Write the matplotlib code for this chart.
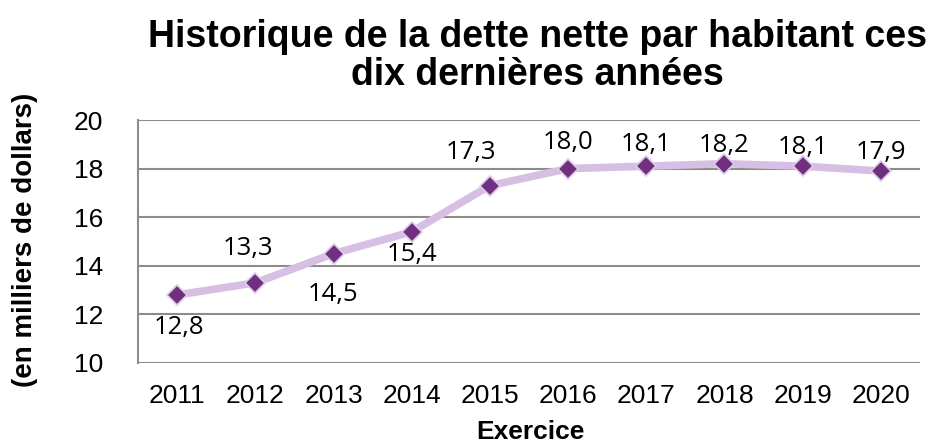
import matplotlib
matplotlib.use('Agg')
import matplotlib.pyplot as plt

plt.rcParams['font.family'] = ['Liberation Sans', 'DejaVu Sans']

# data
years = ['2011', '2012', '2013', '2014', '2015', '2016', '2017', '2018', '2019', '2020']
dette = [12.8, 13.3, 14.5, 15.4, 17.3, 18.0, 18.1, 18.2, 18.1, 17.9]
y_ticks = [10, 12, 14, 16, 18, 20]

# data label offsets in pixels (dx, dy) from each marker, as placed in the original
label_offsets = [(2, -33), (-7, 34), (0, -41), (0, -23), (-19, 33),
                 (0, 26), (0, 22), (0, 18), (0, 19), (0, 19)]

fig = plt.figure(figsize=(9.35, 4.46), dpi=100)
ax = fig.add_axes([138/935, 1-363/446, (920-138)/935, (363-120)/446])

x = list(range(len(years)))
ax.plot(x, dette, color='#d7bfe3', linewidth=5.5, solid_capstyle='round', zorder=2)
ax.plot(x, dette, linestyle='none', marker='D', markersize=10, color='#70307f',
        markeredgecolor='#e0cbe9', markeredgewidth=1.2, zorder=3)

px = 72 / fig.dpi
for xi, v, (dx, dy) in zip(x, dette, label_offsets):
    txt = f'{v:.1f}'.replace('.', ',')
    ax.annotate(txt, (xi, v), xytext=(dx * px, dy * px), textcoords='offset points',
                ha='center', va='center', fontsize=18.5,
                family=['Open Sans', 'DejaVu Sans'])

ax.set_xlim(-0.5, len(years) - 0.5)
ax.set_ylim(10, 20)
ax.set_yticks(y_ticks)
ax.set_xticks(x)
ax.set_xticklabels(years)
ax.tick_params(axis='both', length=0, labelsize=19)
ax.tick_params(axis='x', pad=15)
ax.tick_params(axis='y', pad=25)
ax.yaxis.grid(True, color='#8c8c8c', linewidth=1.5)
ax.set_axisbelow(True)

for s in ['top', 'right', 'bottom']:
    ax.spines[s].set_visible(False)
ax.spines['left'].set_color('#8c8c8c')
ax.spines['left'].set_linewidth(1.5)

fig.text(530/935, 1-432/446, 'Exercice', fontsize=19, fontweight='bold',
         ha='center', va='center')
fig.text(25/935, 1-240/446, '(en milliers de dollars)', rotation=90, fontsize=20,
         fontweight='bold', ha='center', va='center')

fig.text(537/935, 1-56/446, 'Historique de la dette nette par habitant ces\ndix dernières années',
         ha='center', va='center', fontsize=27, fontweight='bold', linespacing=1.05)

plt.savefig('out.png', dpi=100)
